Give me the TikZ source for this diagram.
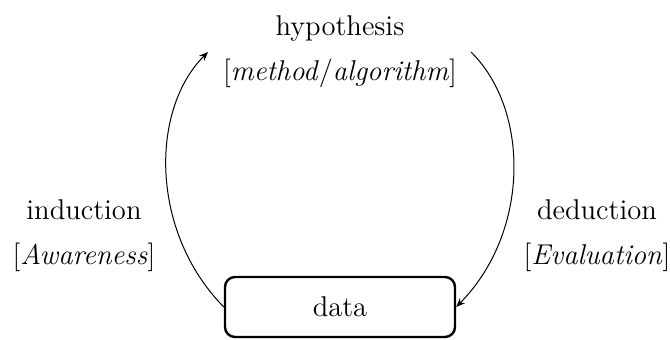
\documentclass[tikz,border=0pt]{standalone}
\usetikzlibrary{arrows.meta}
\begin{document}
\begin{tikzpicture}[x=0.5pt,y=-0.5pt,
  lbl/.style={align=center,inner sep=0pt,font=\fontsize{14.3}{22.5}\selectfont},
  databox/.style={draw,line width=1.2pt,rounded corners=5pt,minimum width=115pt,
    minimum height=30pt,inner sep=0pt,font=\fontsize{14.3}{17}\selectfont},
  flow/.style={line width=0.5pt,-{Stealth[length=4.5pt,width=3.6pt]}}]
\useasboundingbox (0,0) rectangle (670,339);

% labels
\node[lbl] (hyp) at (340,52) {hypothesis\\{[}\textit{method}/\textit{algorithm}{]}};
\node[lbl] (ind) at (84,236) {induction\\{[}\textit{Awareness}{]}};
\node[lbl] (ded) at (597,236) {deduction\\{[}\textit{Evaluation}{]}};

% the data box
\node[databox] (data) at (340,307) {data};

% ends of the two arcs next to the hypothesis label
\coordinate (hypin) at (208,52);
\coordinate (hypout) at (471,52);

% induction: data up to hypothesis; deduction: hypothesis down to data
\draw[flow] (data.west) .. controls (150,232) and (150,110) .. (hypin);
\draw[flow] (hypout) .. controls (530,110) and (530,232) .. (data.east);
\end{tikzpicture}
\end{document}
